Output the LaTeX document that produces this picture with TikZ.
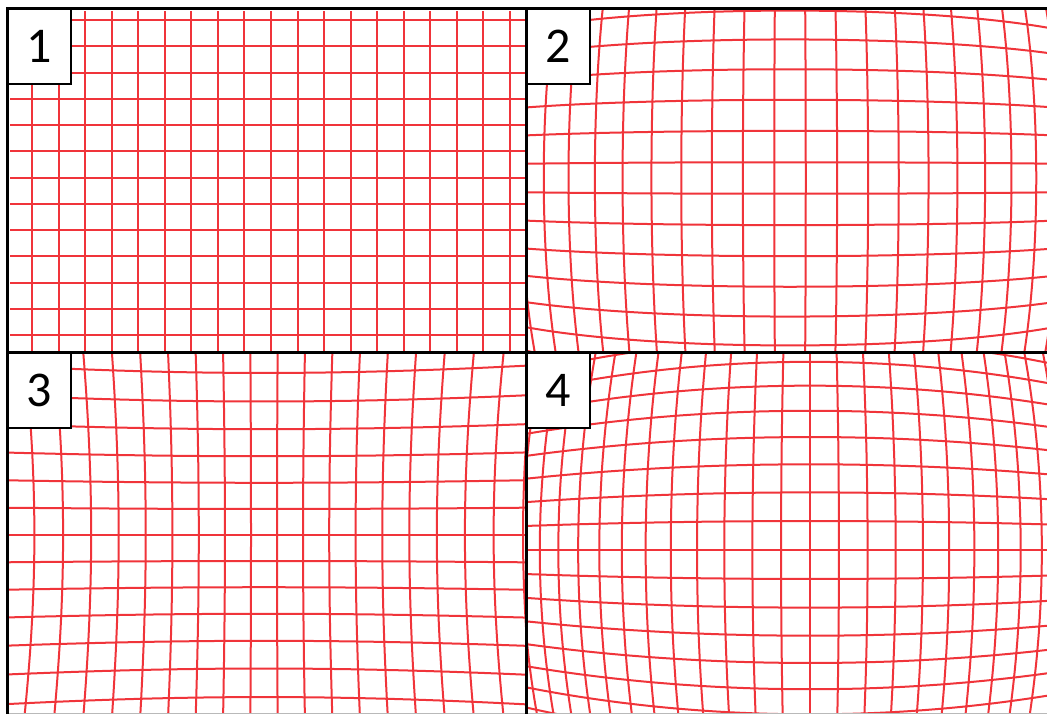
\documentclass[tikz,border=0pt]{standalone}
\usepackage{fontspec}
\setmainfont{Carlito}
\definecolor{gridred}{RGB}{240,52,58}
\begin{document}
\begin{tikzpicture}[x=1pt, y=-1pt,
  gridline/.style={draw=gridred, line width=2pt},
  framerule/.style={draw=black, line width=3pt},
  numbox/.style={draw=black, line width=2pt, fill=white, anchor=north west, inner sep=0pt, minimum width=63pt, minimum height=75pt, font=\fontsize{50}{50}\selectfont},
  declare function={
    barrel(\a,\b)=1-0.0112*(\a*\a+\b*\b);
    pincush(\a,\b)=1+0.008*\a*\a+0.016*\b*\b;
    fisheye(\a,\b)=4.05*rad(atan(veclen(\a,\b)/4.05))/(veclen(\a,\b)+0.00001);
  }]
\useasboundingbox[fill=white] (0,0) rectangle (1047,715);
\begin{scope}
  \clip (9,10) rectangle (525,351);
  \foreach \i in {0,...,18}
    \draw[gridline] ({32+26.55*\i},11) -- ({32+26.55*\i},351);
  \foreach \j in {0,...,12}
    \draw[gridline] (10,{20+26.25*\j}) -- (525,{20+26.25*\j});
\end{scope}
\begin{scope}
  \clip (527,10) rectangle (1047,351);
  \foreach \s in {-1,1}
    \foreach \i in {1,...,10} {
      \pgfmathsetmacro\u{\s*(\i-0.5)*0.315}
      \draw[gridline] plot[domain=-3.2:3.2, samples=60, variable=\t, smooth]
        ({790+100*\u*barrel(\u,\t)}, {178+100*\t*barrel(\u,\t)});
    }
  \foreach \s in {-1,1}
    \foreach \j in {1,...,7} {
      \pgfmathsetmacro\v{\s*(\j-0.5)*0.315}
      \draw[gridline] plot[domain=-3.6:3.6, samples=60, variable=\t, smooth]
        ({790+100*\t*barrel(\t,\v)}, {178+100*\v*barrel(\t,\v)});
    }
\end{scope}
\begin{scope}
  \clip (9,353) rectangle (525,713);
  \foreach \s in {-1,1}
    \foreach \i in {1,...,10} {
      \pgfmathsetmacro\u{\s*(\i-0.5)*0.26}
      \draw[gridline] plot[domain=-2.2:2.2, samples=50, variable=\t, smooth]
        ({264+100*\u*pincush(\u,\t)}, {535+100*\t*pincush(\u,\t)});
    }
  \foreach \j in {-7,...,7} {
    \pgfmathsetmacro\v{\j*0.26}
    \draw[gridline] plot[domain=-2.8:2.8, samples=50, variable=\t, smooth]
      ({264+100*\t*pincush(\t,\v)}, {535+100*\v*pincush(\t,\v)});
  }
\end{scope}
\begin{scope}
  \clip (527,353) rectangle (1047,713);
  \foreach \i in {-14,...,11} {
    \pgfmathsetmacro\u{\i*0.29}
    \draw[gridline] plot[domain=-4.2:4.2, samples=70, variable=\t, smooth]
      ({810+100*\u*fisheye(\u,\t)}, {550+100*\t*fisheye(\u,\t)});
  }
  \foreach \j in {-9,...,8} {
    \pgfmathsetmacro\v{\j*0.29}
    \draw[gridline] plot[domain=-4.6:4.6, samples=70, variable=\t, smooth]
      ({810+100*\t*fisheye(\t,\v)}, {550+100*\v*fisheye(\t,\v)});
  }
\end{scope}
\draw[gray!55, line width=1.2pt] (7,713.8) -- (1047,713.8);
\draw[framerule] (7,714) -- (7,8) -- (1047,8);
\draw[framerule] (526,8) -- (526,714);
\draw[framerule] (7,352) -- (1047,352);
\node[numbox] (lab1) at (7,8) {1};
\node[numbox] (lab2) at (526,8) {2};
\node[numbox] (lab3) at (7,352) {3};
\node[numbox] (lab4) at (526,352) {4};
\end{tikzpicture}
\end{document}
